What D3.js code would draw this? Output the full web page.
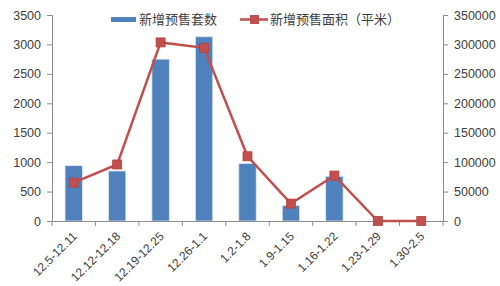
<!DOCTYPE html>
<html>
<head>
<meta charset="utf-8">
<script src="https://cdn.jsdelivr.net/npm/d3@7"></script>
<style>
  html, body { margin: 0; padding: 0; background: #fff; }
  svg { display: block; font-family: "Noto Sans CJK SC", "Liberation Sans", sans-serif; }
</style>
</head>
<body>
<svg id="chart" width="500" height="286"></svg>
<script>
// Weekly new pre-sale figures
const weeks = ["12.5-12.11", "12.12-12.18", "12.19-12.25", "12.26-1.1", "1.2-1.8", "1.9-1.15", "1.16-1.22", "1.23-1.29", "1.30-2.5"];
const units = [940, 850, 2750, 3130, 975, 262, 760, 0, 0];          // 新增预售套数
const area = [65300, 96000, 303400, 294200, 110000, 29600, 77200, 0, 0]; // 新增预售面积（平米）
const leftTicks = [0, 500, 1000, 1500, 2000, 2500, 3000, 3500];
const rightTicks = [0, 50000, 100000, 150000, 200000, 250000, 300000, 350000];
const seriesNames = ["新增预售套数", "新增预售面积（平米）"];

const svg = d3.select("#chart");
const m = { left: 52, right: 57, top: 15, bottom: 65 };
const W = 500, H = 286;
const x0 = m.left, x1 = W - m.right, y0 = H - m.bottom, y1 = m.top;

const xBand = d3.scaleBand().domain(weeks).range([x0, x1]);
const yL = d3.scaleLinear().domain([0, 3500]).range([y0, y1]);
const yR = d3.scaleLinear().domain([0, 350000]).range([y0, y1]);

const axisColor = "#8c8c8c";
const textColor = "#404040";
const numFont = "'Liberation Sans', 'Noto Sans', sans-serif";

// Bars
svg.append("g").selectAll("rect").data(units).join("rect")
  .attr("x", (d, i) => xBand(weeks[i]) + xBand.bandwidth() / 2 - 8.7)
  .attr("width", 17.4)
  .attr("y", d => yL(d))
  .attr("height", d => y0 - yL(d))
  .attr("fill", "#4f81bd")
  .attr("stroke", "#dfe7f2")
  .attr("stroke-width", 0.8);

// Left axis
const gL = svg.append("g").attr("transform", `translate(${x0},0)`)
  .call(d3.axisLeft(yL).tickValues(leftTicks).tickSize(5).tickPadding(6).tickFormat(d3.format("d")));
// Right axis
const gR = svg.append("g").attr("transform", `translate(${x1},0)`)
  .call(d3.axisRight(yR).tickValues(rightTicks).tickSize(5).tickPadding(6).tickFormat(d3.format("d")));
// Bottom axis
const gB = svg.append("g").attr("transform", `translate(0,${y0})`)
  .call(d3.axisBottom(xBand).tickSize(0).tickFormat(""));
// Category separators on bottom axis
svg.append("g").selectAll("line").data(d3.range(weeks.length + 1)).join("line")
  .attr("x1", i => x0 + i * xBand.step()).attr("x2", i => x0 + i * xBand.step())
  .attr("y1", y0).attr("y2", y0 + 5)
  .attr("stroke", axisColor);

[gL, gR, gB].forEach(g => {
  g.select(".domain").attr("stroke", axisColor);
  g.selectAll(".tick line").attr("stroke", axisColor);
  g.selectAll(".tick text").attr("fill", textColor).style("font-size", "12.5px")
    .style("font-family", numFont);
});

// Rotated category labels
svg.append("g").selectAll("text").data(weeks).join("text")
  .attr("transform", d => `translate(${xBand(d) + xBand.bandwidth() / 2 + 4},${y0 + 16}) rotate(-45)`)
  .attr("text-anchor", "end")
  .attr("fill", textColor)
  .style("font-size", "12px")
  .style("font-family", numFont)
  .text(d => d);

// Area line with square markers
const cx = i => xBand(weeks[i]) + xBand.bandwidth() / 2;
const line = d3.line().x((d, i) => cx(i)).y(d => yR(d));
svg.append("path").datum(area).attr("d", line)
  .attr("fill", "none").attr("stroke", "#c0504d").attr("stroke-width", 2.5);
svg.append("g").selectAll("rect").data(area).join("rect")
  .attr("x", (d, i) => cx(i) - 4.5).attr("y", d => yR(d) - 4.5)
  .attr("width", 9).attr("height", 9)
  .attr("fill", "#c0504d").attr("stroke", "#b6403d").attr("stroke-width", 0.8);

// Legend
const leg = svg.append("g");
leg.append("rect").attr("x", 111).attr("y", 17).attr("width", 25).attr("height", 5).attr("fill", "#4f81bd");
leg.append("text").attr("x", 139).attr("y", 24).attr("fill", textColor).style("font-size", "13px").text(seriesNames[0]);
leg.append("line").attr("x1", 240).attr("x2", 268).attr("y1", 19.5).attr("y2", 19.5)
  .attr("stroke", "#c0504d").attr("stroke-width", 2.5);
leg.append("rect").attr("x", 250).attr("y", 15).attr("width", 9).attr("height", 9).attr("fill", "#c0504d");
leg.append("text").attr("x", 270).attr("y", 24).attr("fill", textColor).style("font-size", "13px").text(seriesNames[1]);
</script>
</body>
</html>
